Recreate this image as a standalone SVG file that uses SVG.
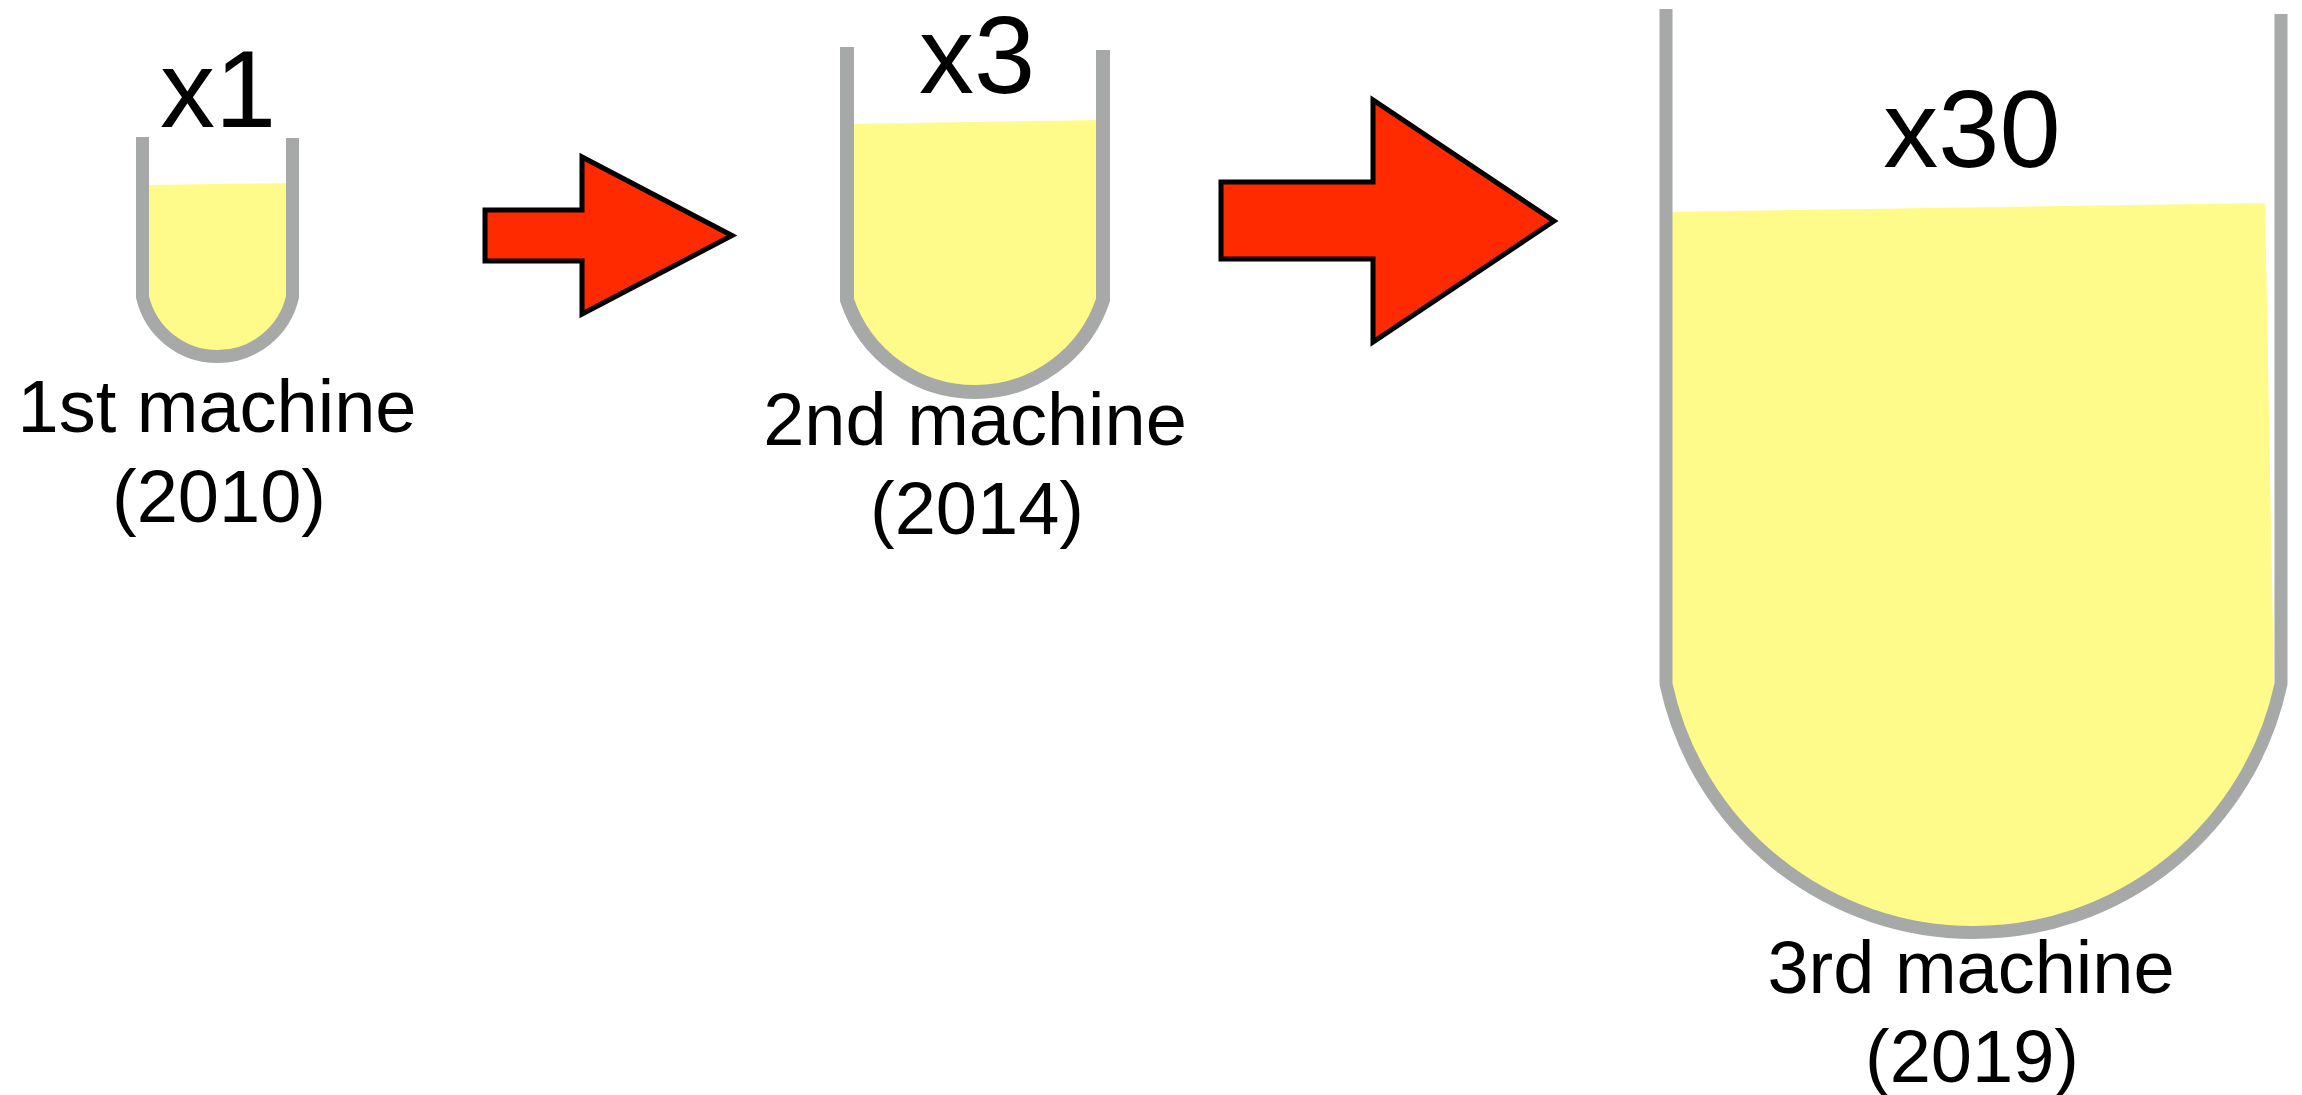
<svg xmlns="http://www.w3.org/2000/svg" width="2302" height="1095" viewBox="0 0 2302 1095">
  <style>
    .wall { fill: none; stroke: #a6a9a7; stroke-width: 13; stroke-linecap: butt; stroke-linejoin: miter; }
    .liquid { fill: #fefb8a; stroke: none; }
    .big { font-family: "Liberation Sans", Arial, Helvetica, sans-serif; font-size: 110px; fill: #000; text-anchor: middle; }
    .lbl { font-family: "Liberation Sans", Arial, Helvetica, sans-serif; font-size: 74px; fill: #000; text-anchor: middle; }
    .arrow { fill: #ff2a00; stroke: #000; stroke-width: 5; stroke-linejoin: miter; }
  </style>
  <rect x="0" y="0" width="2302" height="1095" fill="#ffffff"/>

  <g id="machine1">
    <path class="liquid" d="M142.5,185 L292.5,183 L292.5,297 A77 77 0 0 1 142.5,297 Z"/>
    <path class="wall" d="M142.5,137 L142.5,297 A77 77 0 0 0 292.5,297 L292.5,138"/>
    <text class="big" x="218" y="127">x1</text>
    <text class="lbl" x="217" y="432">1st machine</text>
    <text class="lbl" x="219" y="522">(2010)</text>
  </g>

  <g id="machine2">
    <path class="liquid" d="M847,124 L1103,120 L1103,300 A135 135 0 0 1 847,300 Z"/>
    <path class="wall" style="stroke-width:14" d="M847,47 L847,300 A135 135 0 0 0 1103,300 L1103,50"/>
    <text class="big" x="977" y="93">x3</text>
    <text class="lbl" x="975" y="445">2nd machine</text>
    <text class="lbl" x="977" y="534">(2014)</text>
  </g>

  <g id="machine3">
    <path class="liquid" d="M1666,212 L2265,203 L2274,684 L2281,684 A314.5 314.5 0 0 1 1666,684 Z"/>
    <path class="wall" d="M1666,9 L1666,684 A314.5 314.5 0 0 0 2281,684 L2281,14"/>
    <text class="big" x="1972" y="167">x30</text>
    <text class="lbl" x="1971" y="993">3rd machine</text>
    <text class="lbl" x="1972" y="1082">(2019)</text>
  </g>

  <g id="connectors">
    <polygon class="arrow" points="485,210 582,210 582,157 732,235.5 582,314 582,261 485,261"/>
    <polygon class="arrow" points="1221,182 1373,182 1373,100 1554,221 1373,342 1373,259 1221,259"/>
  </g>
</svg>
